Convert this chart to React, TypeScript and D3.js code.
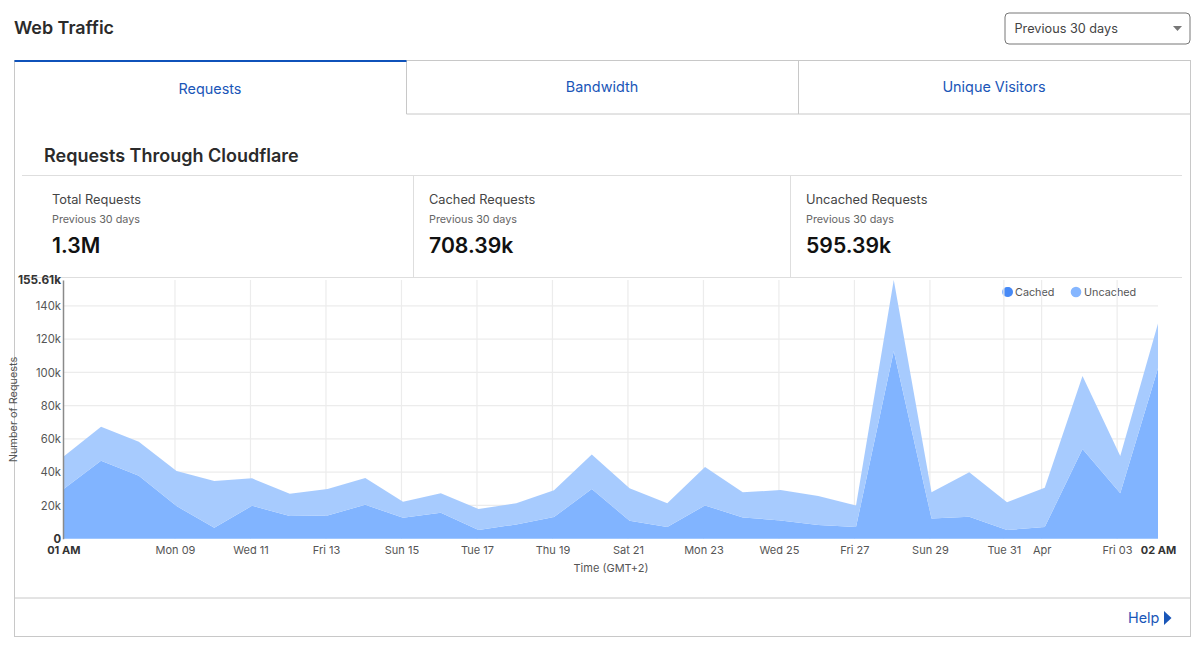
import React, { useEffect, useRef } from 'react';
import * as d3 from 'd3';

const days = d3.range(30).map((i) => new Date(Date.UTC(2020, 2, 6 + i)));
const cached = [29.7, 46.9, 37.9, 19.6, 6.6, 19.8, 13.6, 14, 20.4, 12.6, 15.6, 5.2, 8.6, 13, 29.9, 10.8, 7, 20, 12.8, 11, 8.2, 7, 112.9, 12.2, 13.2, 5.2, 7, 53.9, 27.3, 102.5];
const uncached = [19.6, 20.5, 20.4, 21.1, 28.1, 16.5, 13.4, 15.9, 16.1, 9.7, 11.7, 12.6, 12.7, 16.1, 20.8, 19.5, 14.3, 23.1, 15.1, 18.3, 17.5, 13, 42.71, 15.7, 26.7, 16.7, 23.7, 43.9, 22.4, 27];

const yTicks = [0, 20, 40, 60, 80, 100, 120, 140, 155.61];
const xTickDates = ['2020-03-09T00:00:00+01:00', '2020-03-11T00:00:00+01:00', '2020-03-13T00:00:00+01:00', '2020-03-15T00:00:00+01:00', '2020-03-17T00:00:00+01:00', '2020-03-19T00:00:00+01:00', '2020-03-21T00:00:00+01:00', '2020-03-23T00:00:00+01:00', '2020-03-25T00:00:00+01:00', '2020-03-27T00:00:00+01:00', '2020-03-29T00:00:00+01:00', '2020-03-31T00:00:00+02:00', '2020-04-01T00:00:00+02:00', '2020-04-03T00:00:00+02:00'];
const xTickLabels = ['Mon 09', 'Wed 11', 'Fri 13', 'Sun 15', 'Tue 17', 'Thu 19', 'Sat 21', 'Mon 23', 'Wed 25', 'Fri 27', 'Sun 29', 'Tue 31', 'Apr', 'Fri 03'];
const tabs = ['Requests', 'Bandwidth', 'Unique Visitors'];
const statLabels = ['Total Requests', 'Cached Requests', 'Uncached Requests'];
const statValues = ['1.3M', '708.39k', '595.39k'];

const font = 'Inter, "Noto Sans", sans-serif';
const border = '#c8c8c8';
const blue = '#1a56b8';

const App: React.FC = () => {
  const ref = useRef<SVGSVGElement>(null);

  useEffect(() => {
    const svg = d3.select(ref.current);
    svg.selectAll('.chart').remove();
    const g = svg.append('g').attr('class', 'chart').style('font-family', font);

    const x = d3.scaleUtc().domain([days[0], days[29]]).range([63.3, 1158]);
    const y = d3.scaleLinear().domain([0, 155.61]).range([538.7, 280]);

    const xDates = xTickDates.map((d) => new Date(d));

    const grid = g.append('g').attr('stroke', '#ececec').attr('stroke-width', 1.2);
    yTicks.slice(1, -1).forEach((t) => {
      grid.append('line').attr('x1', 63).attr('x2', 1158).attr('y1', y(t)).attr('y2', y(t));
    });
    xDates.forEach((d) => {
      grid.append('line').attr('x1', x(d)).attr('x2', x(d)).attr('y1', 280).attr('y2', 538.7);
    });

    const rows = days.map((d, i) => ({ date: d, cached: cached[i], uncached: uncached[i] }));
    const stacked = d3.stack<any>().keys(['cached', 'uncached'])(rows);
    const area = d3.area<any>()
      .x((d) => x(d.data.date))
      .y0((d) => y(d[0]))
      .y1((d) => y(d[1]));

    g.selectAll('path.layer')
      .data(stacked)
      .join('path')
      .attr('class', 'layer')
      .attr('fill', (d) => (d.key === 'cached' ? '#7cb1ff' : '#a3c9fe'))
      .attr('fill-opacity', 0.96)
      .attr('d', area as any);

    const yAxis = d3.axisLeft(y)
      .tickValues(yTicks)
      .tickSize(0)
      .tickPadding(2)
      .tickFormat((d) => (d === 0 ? '0' : `${d}k`));
    const yg = g.append('g').attr('transform', 'translate(63,0)').call(yAxis);
    yg.select('.domain').attr('stroke', '#8a8a8a').attr('stroke-width', 1.5);
    yg.selectAll('text')
      .attr('fill', (d) => (d === 155.61 || d === 0 ? '#333' : '#555'))
      .attr('font-family', font)
      .attr('font-size', (d) => (d === 155.61 ? 11.8 : 11.3))
      .attr('font-weight', (d) => (d === 155.61 || d === 0 ? 700 : 400));

    const xAxis = d3.axisBottom(x)
      .tickValues([days[0], ...xDates, days[29]])
      .tickSize(0)
      .tickPadding(8)
      .tickFormat((d, i) => (i === 0 ? '01 AM' : i === xDates.length + 1 ? '02 AM' : xTickLabels[i - 1]));
    const xg = g.append('g').attr('transform', 'translate(0,538.7)').call(xAxis);
    xg.select('.domain').remove();
    xg.selectAll('text')
      .attr('fill', (_, i) => (i === 0 || i === xDates.length + 1 ? '#333' : '#555'))
      .attr('font-family', font)
      .attr('font-size', 11)
      .attr('font-weight', (_, i) => (i === 0 || i === xDates.length + 1 ? 700 : 400));
  }, []);

  return (
    <svg ref={ref} width={1200} height={646} style={{ position: 'absolute', left: 0, top: 0, background: '#fff' }} fontFamily={font}>
      <text x={14} y={34} fontSize={17.9} fontWeight={600} fill="#2b2b2b">Web Traffic</text>

      <rect x={1005} y={13} width={185} height={31} rx={4} fill="#fff" stroke="#777" />
      <text x={1014.5} y={33} fontSize={12.7} fill="#444">Previous 30 days</text>
      <path d="M1173 26h9l-4.5 5z" fill="#777" />

      <rect x={14.5} y={60.5} width={1176} height={576} fill="none" stroke={border} />
      <line x1={406.5} x2={1190} y1={60.5} y2={60.5} stroke={border} />
      <line x1={406.5} x2={1190} y1={114} y2={114} stroke={border} />
      <line x1={406.5} x2={406.5} y1={61} y2={114} stroke={border} />
      <line x1={798.5} x2={798.5} y1={61} y2={114} stroke={border} />
      <line x1={14.5} x2={406.5} y1={61} y2={61} stroke="#0f52ba" strokeWidth={2} />
      <text x={210} y={94} textAnchor="middle" fontSize={14.4} fill={blue}>{tabs[0]}</text>
      <text x={602} y={92} textAnchor="middle" fontSize={14.4} fill={blue}>{tabs[1]}</text>
      <text x={994} y={92} textAnchor="middle" fontSize={14.4} fill={blue}>{tabs[2]}</text>

      <text x={44} y={162} fontSize={18} fontWeight={600} fill="#2b2b2b">Requests Through Cloudflare</text>
      <line x1={22} x2={1182} y1={175.5} y2={175.5} stroke="#dedede" />
      <line x1={22} x2={1182} y1={277.5} y2={277.5} stroke="#dedede" />
      <line x1={413.5} x2={413.5} y1={176} y2={277} stroke="#dedede" />
      <line x1={790.5} x2={790.5} y1={176} y2={277} stroke="#dedede" />
      {[52, 429, 806].map((sx, i) => (
        <g key={sx}>
          <text x={sx} y={204} fontSize={12.8} fill="#444">{statLabels[i]}</text>
          <text x={sx} y={223} fontSize={10.8} fill="#666">Previous 30 days</text>
          <text x={sx} y={253} fontSize={21.2} fontWeight={600} fill="#111">{statValues[i]}</text>
        </g>
      ))}

      <circle cx={1007} cy={292} r={5} fill="#85b6ff" />
      <circle cx={1008} cy={292} r={5} fill="#4689f6" />
      <text x={1015} y={296} fontSize={10.8} fill="#555">Cached</text>
      <circle cx={1076} cy={292} r={5.3} fill="#85b6ff" />
      <text x={1084} y={296} fontSize={10.8} fill="#555">Uncached</text>

      <text transform="translate(17,409.5) rotate(-90)" textAnchor="middle" fontSize={10.9} fill="#555">Number of Requests</text>
      <text x={611} y={572} textAnchor="middle" fontSize={11} fill="#555">Time (GMT+2)</text>

      <line x1={15} x2={1190} y1={598} y2={598} stroke={border} />
      <text x={1128} y={623} fontSize={14.4} fill={blue}>Help</text>
      <path d="M1164 611l7.5 7-7.5 7z" fill={blue} />
    </svg>
  );
};

export default App;
